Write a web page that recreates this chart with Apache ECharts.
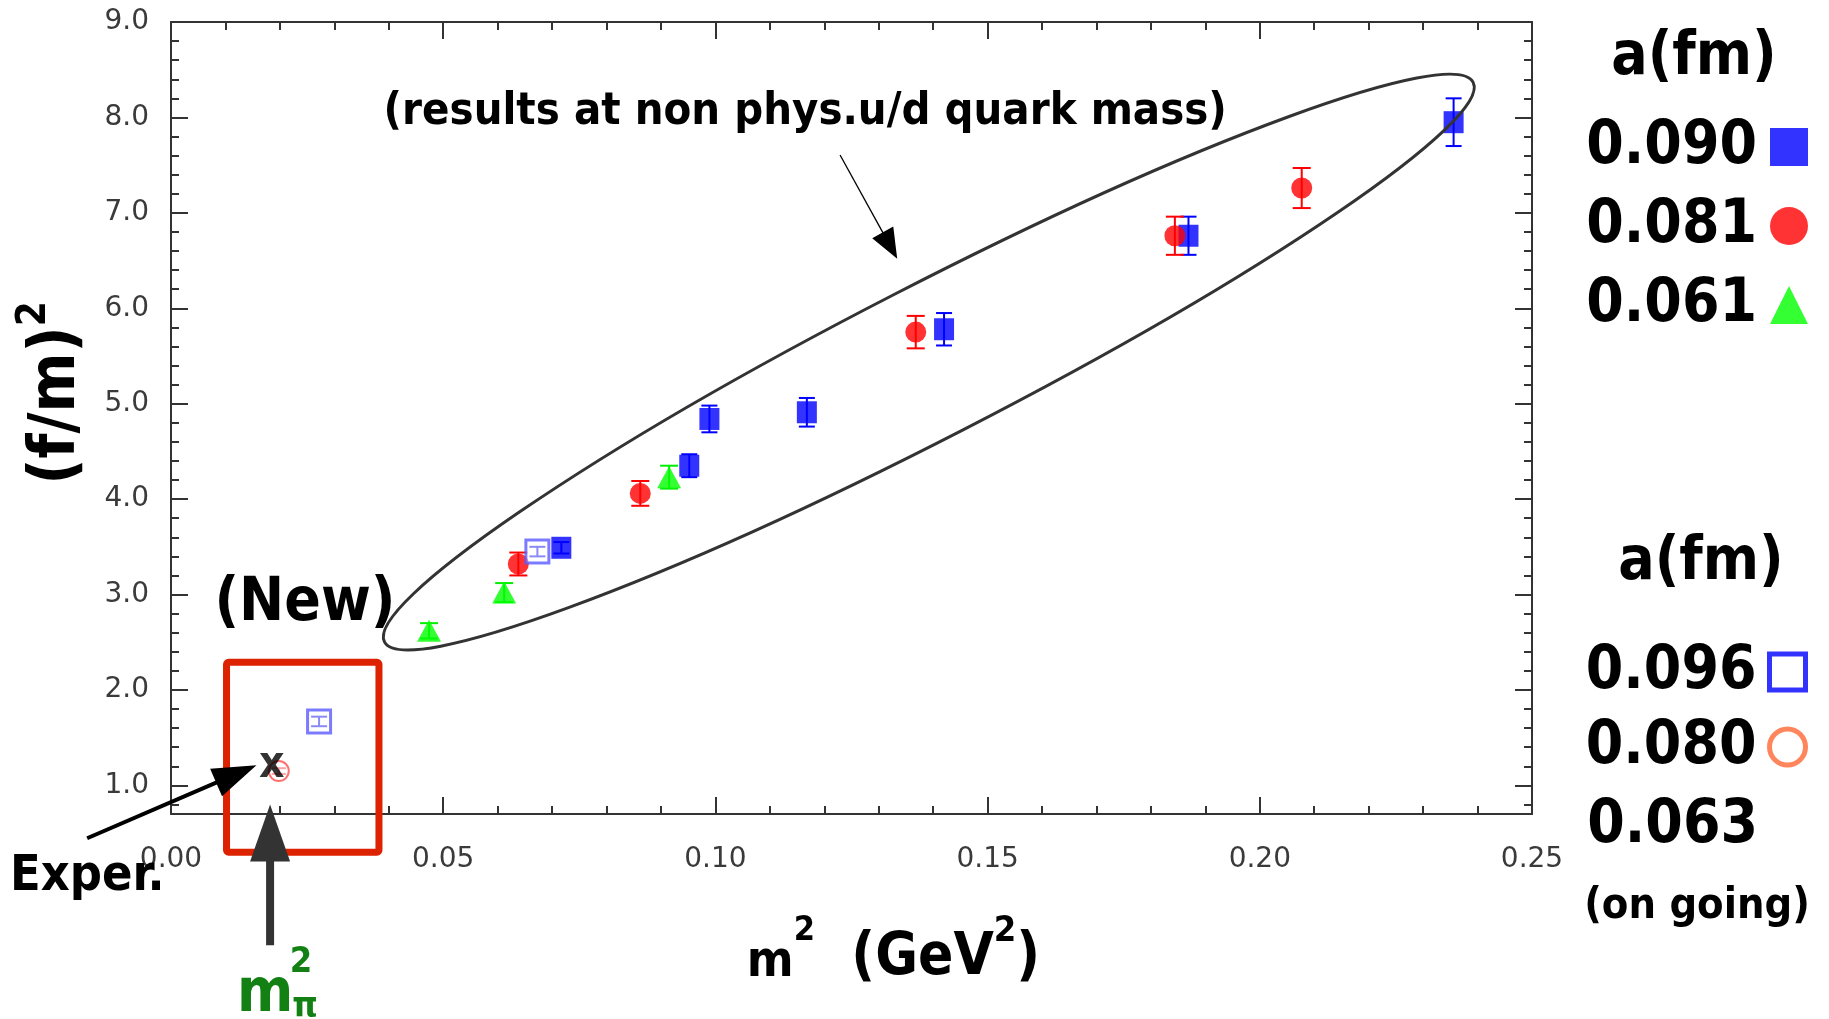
<!DOCTYPE html>
<html>
<head>
<meta charset="utf-8">
<script src="https://cdn.jsdelivr.net/npm/echarts@6/dist/echarts.min.js"></script>
<style>
  html, body { margin: 0; padding: 0; background: #fff; }
  #main { width: 1829px; height: 1019px; }
</style>
</head>
<body>
<div id="main"></div>
<script>
// ---- data ----
// a = 0.090 fm (filled blue squares)
const blueX = [0.0717, 0.0952, 0.0989, 0.1168, 0.1420, 0.1869, 0.2356];
const blueY = [3.49, 4.35, 4.84, 4.91, 5.78, 6.76, 7.95];
const blueErr = [0.06, 0.12, 0.14, 0.15, 0.17, 0.20, 0.25];
// a = 0.081 fm (filled red circles)
const redX = [0.0638, 0.0862, 0.1368, 0.1844, 0.2077];
const redY = [3.32, 4.06, 5.75, 6.76, 7.26];
const redErr = [0.12, 0.13, 0.17, 0.20, 0.21];
// a = 0.061 fm (green triangles)
const greenX = [0.0474, 0.0612, 0.0915];
const greenY = [2.62, 3.02, 4.23];
const greenErr = [0.08, 0.10, 0.12];
// a = 0.096 fm (open blue squares, new)
const openBlueX = [0.0272, 0.0673];
const openBlueY = [1.67, 3.45];
const openBlueErr = [0.05, 0.05];
// a = 0.080 fm (open red circle, new)
const openRedX = [0.0198];
const openRedY = [1.15];
const openRedErr = [0.03];
// experiment
const experX = [0.0185];
const experY = [1.23];

const xTickLabels = ['0.00', '0.05', '0.10', '0.15', '0.20', '0.25'];
const yTickValues = [1, 2, 3, 4, 5, 6, 7, 8, 9];

const FONT = '"DejaVu Sans Condensed", "DejaVu Sans", sans-serif';
const AXIS_COLOR = '#333';

// minor y ticks every 0.2 between the labelled ones
const yMinor = [];
for (let v = 0.8; v < 9; v += 0.2) {
  const r = Math.round(v * 10) / 10;
  if (Math.abs(r - Math.round(r)) > 1e-6) yMinor.push(r);
}

function pts(xs, ys) {
  return xs.map((x, i) => [x, ys[i]]);
}
function errs(xs, ys, es) {
  return xs.map((x, i) => [x, ys[i] - es[i], ys[i] + es[i]]);
}

// 误差棒
function errSeries(name, data, color, cap) {
  return {
    name: name,
    type: 'custom',
    z: 3,
    data: data,
    encode: { x: 0, y: [1, 2] },
    renderItem(params, api) {
      const x = api.value(0);
      const p1 = api.coord([x, api.value(1)]);
      const p2 = api.coord([x, api.value(2)]);
      const style = { stroke: color, lineWidth: 2 };
      return {
        type: 'group',
        children: [
          { type: 'line', shape: { x1: p1[0], y1: p1[1], x2: p2[0], y2: p2[1] }, style },
          { type: 'line', shape: { x1: p1[0] - cap, y1: p1[1], x2: p1[0] + cap, y2: p1[1] }, style },
          { type: 'line', shape: { x1: p2[0] - cap, y1: p2[1], x2: p2[0] + cap, y2: p2[1] }, style }
        ]
      };
    }
  };
}

const tickStyle = { color: AXIS_COLOR, width: 2 };

function xAxisCfg(position, showLabel) {
  return {
    type: 'value',
    position: position,
    min: 0,
    max: 0.25,
    interval: 0.05,
    axisLine: { show: true, onZero: false, lineStyle: { color: AXIS_COLOR, width: 2 } },
    axisTick: { show: true, inside: true, length: 17, lineStyle: tickStyle },
    minorTick: { show: true, splitNumber: 5, length: 8, lineStyle: tickStyle },
    splitLine: { show: false },
    axisLabel: {
      show: showLabel,
      margin: 32,
      fontSize: 28,
      fontFamily: 'DejaVu Sans',
      color: '#3a3a3a',
      formatter: (v) => xTickLabels[Math.round(v / 0.05)]
    }
  };
}

function yAxisCfg(position, values, len, showLine, showLabel) {
  return {
    type: 'value',
    position: position,
    min: 0.7,
    max: 9,
    axisLine: { show: showLine, onZero: false, lineStyle: { color: AXIS_COLOR, width: 2 } },
    axisTick: { show: true, inside: true, length: len, customValues: values, lineStyle: tickStyle },
    splitLine: { show: false },
    axisLabel: {
      show: showLabel,
      customValues: values,
      margin: 22,
      fontSize: 28,
      fontFamily: 'DejaVu Sans',
      color: '#3a3a3a',
      formatter: (v) => v.toFixed(1)
    }
  };
}

const titleTok = { fontWeight: 'bold', fontFamily: FONT, color: '#000', lineHeight: 74 };

const option = {
  animation: false,
  backgroundColor: '#fff',
  grid: { left: 171, right: 297, top: 22, bottom: 205, containLabel: false },
  xAxis: [
    Object.assign(xAxisCfg('bottom', true), {
      name: '{m|m}{sup|2}{t|  (GeV}{sup2|2}{t|)}',
      nameLocation: 'middle',
      nameGap: 100,
      nameTextStyle: {
        padding: [0, 0, 0, 84],
        rich: {
          m: Object.assign({ fontSize: 50, verticalAlign: 'bottom' }, titleTok),
          sup: Object.assign({ fontSize: 34, verticalAlign: 'top' }, titleTok),
          t: Object.assign({ fontSize: 58, verticalAlign: 'bottom' }, titleTok),
          sup2: Object.assign({ fontSize: 36, verticalAlign: 'top', lineHeight: 80 }, titleTok)
        }
      }
    }),
    xAxisCfg('top', false)
  ],
  yAxis: [
    Object.assign(yAxisCfg('left', yTickValues, 17, true, true), {
      name: '{t|(f/m)}{sup|2}',
      nameLocation: 'middle',
      nameRotate: 90,
      nameGap: 82,
      nameTextStyle: {
        padding: [0, 0, 0, 50],
        rich: {
          t: Object.assign({ fontSize: 64, verticalAlign: 'bottom' }, titleTok),
          sup: Object.assign({ fontSize: 40, verticalAlign: 'top' }, titleTok)
        }
      }
    }),
    yAxisCfg('left', yMinor, 8, false, false),
    yAxisCfg('right', yTickValues, 17, true, false),
    yAxisCfg('right', yMinor, 8, false, false)
  ],
  legend: [
    {
      orient: 'vertical',
      right: 16,
      top: 110,
      align: 'right',
      itemGap: 15,
      itemWidth: 38,
      itemHeight: 38,
      selectedMode: false,
      textStyle: { fontSize: 60, fontWeight: 'bold', fontFamily: FONT, color: '#000', lineHeight: 64, padding: [0, 8, 0, 0] },
      data: [
        { name: '0.090', icon: 'rect' },
        { name: '0.081', icon: 'circle' },
        { name: '0.061', icon: 'triangle' }
      ]
    },
    {
      orient: 'vertical',
      right: 16,
      top: 635,
      align: 'right',
      itemGap: 11,
      itemWidth: 36,
      itemHeight: 36,
      selectedMode: false,
      textStyle: { fontSize: 60, fontWeight: 'bold', fontFamily: FONT, color: '#000', lineHeight: 64, padding: [0, 8, 0, 0] },
      data: [
        { name: '0.096', icon: 'rect', itemStyle: { color: '#fff', borderColor: '#0000ff', borderWidth: 5 } },
        { name: '0.080', icon: 'circle', itemStyle: { color: '#fff', borderColor: '#ff6633', borderWidth: 5 } }
      ]
    }
  ],
  series: [
    {
      name: '0.090', type: 'scatter', z: 4, symbol: 'rect', symbolSize: [20, 22],
      itemStyle: { color: '#0000ff' }, data: pts(blueX, blueY)
    },
    errSeries('err 0.090', errs(blueX, blueY, blueErr), '#0000ff', 8),
    {
      name: '0.081', type: 'scatter', z: 5, symbol: 'circle', symbolSize: 21,
      itemStyle: { color: '#ff0000' }, data: pts(redX, redY)
    },
    errSeries('err 0.081', errs(redX, redY, redErr), '#ff0000', 9),
    {
      name: '0.061', type: 'scatter', z: 5, symbol: 'triangle', symbolSize: [24, 22],
      itemStyle: { color: '#00ff00' }, data: pts(greenX, greenY)
    },
    errSeries('err 0.061', errs(greenX, greenY, greenErr), '#00ee00', 9),
    {
      name: '0.096', type: 'scatter', z: 6, symbol: 'rect', symbolSize: 23,
      itemStyle: { color: 'rgba(255,255,255,0.6)', borderColor: '#5a5aff', borderWidth: 3 },
      data: pts(openBlueX, openBlueY)
    },
    errSeries('err 0.096', errs(openBlueX, openBlueY, openBlueErr), '#2020ee', 8),
    {
      name: '0.080', type: 'scatter', z: 6, symbol: 'circle', symbolSize: 20,
      itemStyle: { color: 'rgba(255,255,255,0.6)', borderColor: '#ff4d4d', borderWidth: 2 },
      data: pts(openRedX, openRedY)
    },
    errSeries('err 0.080', errs(openRedX, openRedY, openRedErr), '#ff4d4d', 7),
    {
      name: 'Exper.', type: 'scatter', z: 8, symbolSize: 1,
      itemStyle: { color: 'rgba(0,0,0,0)' },
      label: {
        show: true, position: 'inside', formatter: 'x', offset: [0, 2],
        fontSize: 44, fontWeight: 'bold', fontFamily: FONT, color: '#000'
      },
      data: pts(experX, experY)
    }
  ]
};

const chart = echarts.init(document.getElementById('main'));
chart.setOption(option);

// ---- annotations (positions given in data units, converted by the chart) ----
function px(x, y) {
  return chart.convertToPixel({ seriesIndex: 0 }, [x, y]);
}

function arrow(from, to, lineWidth, headLen, headW, color) {
  const dx = to[0] - from[0];
  const dy = to[1] - from[1];
  const len = Math.sqrt(dx * dx + dy * dy);
  const ux = dx / len, uy = dy / len;
  const bx = to[0] - ux * headLen, by = to[1] - uy * headLen;
  return [
    { type: 'line', silent: true, z: 50, shape: { x1: from[0], y1: from[1], x2: bx + ux * 2, y2: by + uy * 2 },
      style: { stroke: color, lineWidth: lineWidth } },
    { type: 'polygon', silent: true, z: 50,
      shape: { points: [to, [bx - uy * headW / 2, by + ux * headW / 2], [bx + uy * headW / 2, by - ux * headW / 2]] },
      style: { fill: color } }
  ];
}

function label(text, pos, size, color, align) {
  return {
    type: 'text', silent: true, z: 60, x: pos[0], y: pos[1],
    style: {
      text: text, fill: color || '#000', fontSize: size, fontWeight: 'bold', fontFamily: FONT,
      align: align || 'center', verticalAlign: 'middle'
    }
  };
}

const ellC = px(0.1392, 5.436);
const boxTL = px(0.0102, 2.29);
const boxBR = px(0.0382, 0.30);
const mpi = 0.0182;

let g = [];
g.push({
  type: 'ellipse', silent: true, z: 40, x: ellC[0], y: ellC[1], rotation: 27.2 * Math.PI / 180,
  shape: { cx: 0, cy: 0, rx: 612, ry: 76 },
  style: { fill: null, stroke: '#333', lineWidth: 3 }
});
g.push({
  type: 'rect', silent: true, z: 40,
  shape: { x: boxTL[0], y: boxTL[1], width: boxBR[0] - boxTL[0], height: boxBR[1] - boxTL[1], r: 2 },
  style: { fill: null, stroke: '#dd2200', lineWidth: 7 }
});
g = g.concat(arrow(px(0.1229, 7.606), px(0.1334, 6.52), 1.3, 30, 24, '#000'));
g = g.concat(arrow(px(-0.0154, 0.446), px(0.0157, 1.212), 4, 44, 30, '#000'));
g = g.concat(arrow(px(mpi, -0.675), px(mpi, 0.80), 8, 57, 40, '#333'));

g.push(label('(results at non phys.u/d quark mass)', px(0.1165, 8.05), 45));
g.push(label('(New)', px(0.0246, 2.90), 60));
g.push(label('Exper.', [10, px(0, 0.04)[1]], 50, '#000', 'left'));

// m_pi^2 under the big arrow
const mPos = px(mpi, -1.20);
g.push(label('m', [mPos[0] - 5, mPos[1]], 60, '#138013'));
g.push(label('2', [mPos[0] + 31, mPos[1] - 33], 36, '#138013'));
g.push(label('π', [mPos[0] + 35, mPos[1] + 12], 36, '#138013'));

// legend headers and the unmarked entry
g.push(label('a(fm)', [1694, 58], 60));
g.push(label('a(fm)', [1701, 563], 60));
g.push(label('0.063', [1758, 826], 60, '#000', 'right'));
g.push(label('(on going)', [1697, 907], 43));

chart.setOption({ graphic: g });
</script>
</body>
</html>
